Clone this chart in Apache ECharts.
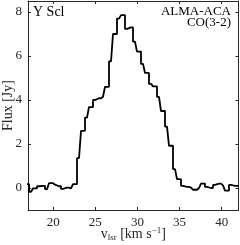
<!DOCTYPE html>
<html>
<head>
<meta charset="utf-8">
<script src="https://cdn.jsdelivr.net/npm/echarts@6/dist/echarts.min.js"></script>
<style>html,body{margin:0;padding:0;background:#fff}#c{width:240px;height:245px}</style>
</head>
<body>
<div id="c"></div>
<script>
// channel centre velocities (km/s)
const velocities = [16.88, 17.36, 17.83, 18.31, 18.78, 19.26, 19.73, 20.21, 20.68, 21.16, 21.63, 22.11, 22.58,
  23.06, 23.53, 24.01, 24.48, 24.96, 25.43, 25.91, 26.38, 26.86, 27.33, 27.81, 28.28, 28.76, 29.23, 29.71,
  30.18, 30.66, 31.13, 31.61, 32.08, 32.56, 33.03, 33.51, 33.98, 34.46, 34.93, 35.41, 35.88, 36.36, 36.83,
  37.31, 37.78, 38.26, 38.73, 39.21, 39.68, 40.16, 40.63, 41.11, 41.58, 42.06];
// flux density (Jy)
const flux = [0.18, -0.17, -0.02, 0.08, 0.10, -0.05, 0.22, 0.15, 0.08, -0.04, 0.02, -0.02, 0.18,
  1.36, 2.60, 3.20, 3.68, 4.00, 4.08, 4.15, 4.60, 5.76, 7.00, 7.70, 7.86, 7.23, 7.30, 6.65,
  6.20, 5.64, 5.23, 4.73, 4.62, 4.14, 3.50, 2.79, 1.92, 0.86, 0.40, 0.10, 0.05, 0.02, -0.08,
  0.00, 0.20, 0.05, 0.00, 0.14, 0.20, 0.12, -0.12, 0.14, 0.10, 0.10];
const xTicks = [20, 25, 30, 35, 40];
const yTicks = [0, 2, 4, 6, 8];
const xRange = [17, 42];
const yRange = [-1, 8.5];
const labelTL = 'Y Scl';
const labelTR = ['ALMA-ACA', 'CO(3-2)'];

const FONT = '"Liberation Serif", "DejaVu Serif", serif';
const AX = '#262626';
const chart = echarts.init(document.getElementById('c'), null, {renderer: 'canvas'});

function xAx(pos, show) {
  return {
    type: 'value', position: pos, min: xRange[0], max: xRange[1],
    axisLine: {show: true, onZero: false, lineStyle: {color: AX, width: 1}},
    axisTick: {show: true, inside: true, length: 3, customValues: xTicks, lineStyle: {color: AX}},
    axisLabel: {show: show, customValues: xTicks, fontFamily: FONT, fontSize: 13, color: AX, margin: 6},
    splitLine: {show: false}
  };
}
function yAx(pos, show) {
  return {
    type: 'value', position: pos, min: yRange[0], max: yRange[1],
    axisLine: {show: true, onZero: false, lineStyle: {color: AX, width: 1}},
    axisTick: {show: true, inside: true, length: 3, customValues: yTicks, lineStyle: {color: AX}},
    axisLabel: {show: show, customValues: yTicks, fontFamily: FONT, fontSize: 13, color: AX, margin: 6},
    splitLine: {show: false}
  };
}

const xb = xAx('bottom', true);
xb.name = '{v|v}{s|lsr}{n| [km s}{p|−1}{n|]}';
xb.nameLocation = 'middle';
xb.nameGap = 16;
xb.nameMoveOverlap = false;
xb.nameTextStyle = {
  fontFamily: FONT, color: AX,
  rich: {
    v: {fontFamily: FONT, fontSize: 14, color: AX, lineHeight: 16},
    s: {fontFamily: FONT, fontSize: 9, color: AX, verticalAlign: 'bottom', lineHeight: 12},
    n: {fontFamily: FONT, fontSize: 14, color: AX, lineHeight: 16},
    p: {fontFamily: FONT, fontSize: 9, color: AX, verticalAlign: 'top', lineHeight: 10}
  }
};
const yl = yAx('left', true);
yl.name = 'Flux [Jy]';
yl.nameLocation = 'middle';
yl.nameGap = 13;
yl.nameMoveOverlap = false;
yl.nameTextStyle = {fontFamily: FONT, fontSize: 14, color: AX};

const data = velocities.map((v, i) => [v, flux[i]]);

chart.setOption({
  animation: false,
  backgroundColor: '#fff',
  grid: {left: 28, right: 1.5, top: 1, bottom: 35, containLabel: false, outerBoundsMode: 'none'},
  xAxis: [xb, xAx('top', false)],
  yAxis: [yl, yAx('right', false)],
  series: [{
    type: 'line', step: 'middle', data: data, xAxisIndex: 0, yAxisIndex: 0,
    showSymbol: false, symbol: 'none', clip: true,
    lineStyle: {color: '#000', width: 1.8}
  }],
  graphic: [
    {type: 'text', left: 33, top: 5, style: {text: labelTL, font: '14px ' + FONT, fill: '#000'}},
    {type: 'text', right: 9, top: 5, style: {text: labelTR[0], font: '13px ' + FONT, fill: '#000', align: 'right'}},
    {type: 'text', right: 9, top: 16, style: {text: labelTR[1], font: '13px ' + FONT, fill: '#000', align: 'right'}}
  ]
});
</script>
</body>
</html>
